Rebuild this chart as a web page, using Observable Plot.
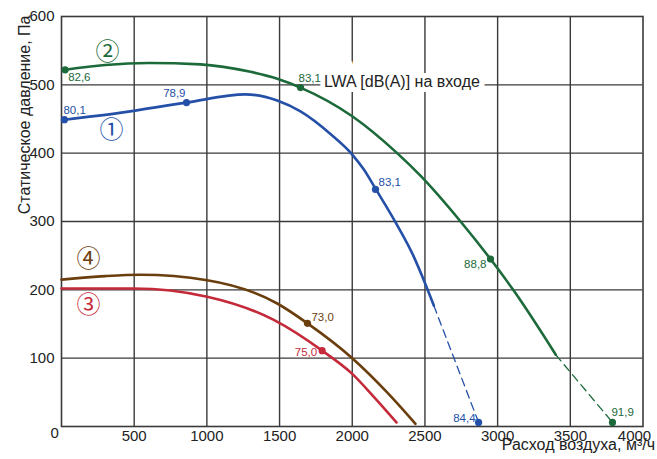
<!DOCTYPE html>
<html><head><meta charset="utf-8">
<script src="https://cdn.jsdelivr.net/npm/d3@7"></script>
<script src="https://cdn.jsdelivr.net/npm/@observablehq/plot@0.6"></script>
<style>body{margin:0;background:#fff} svg{display:block}</style>
</head><body><div id="chart"></div>
<script>
// ---- data ----
const xTicks = [500, 1000, 1500, 2000, 2500, 3000, 3500];
const xLastTick = [4000];
const yTicks = [100, 200, 300, 400, 500, 600];
const xGrid = [500, 1000, 1500, 2000, 2500, 3000, 3500];
const yGrid = [100, 200, 300, 400, 500];

// curve 1 (blue)
const c1X = [20, 400, 860, 1266, 1484, 1644, 1850, 2000, 2080, 2160, 2300, 2420, 2500, 2561];
const c1Y = [449, 459, 474, 486, 477, 461, 428, 398, 376, 348, 298, 250, 210, 177];
const c1DashX = [2561, 2869];
const c1DashY = [177, 6];
// curve 2 (green)
const c2X = [25, 300, 600, 956, 1300, 1484, 1644, 2000, 2309, 2469, 2745, 2951, 3107, 3400];
const c2Y = [522, 529, 532, 530, 519, 509, 496, 454, 400, 367, 300, 245, 200, 105];
const c2DashX = [3400, 3790];
const c2DashY = [105, 6];
// curve 3 (red)
const c3X = [0, 497, 1002, 1460, 1793, 2000, 2150, 2304];
const c3Y = [202, 202, 190, 156, 111, 77, 43, 6];
// curve 4 (brown)
const c4X = [0, 300, 543, 1002, 1484, 1692, 2000, 2240, 2435];
const c4Y = [215, 220, 222, 214, 180, 151, 100, 50, 4];

// labelled points (LWA values)
const ptCurve = [2, 2, 2, 2, 1, 1, 1, 1, 4, 3];
const ptX = [25, 1644, 2951, 3790, 20, 860, 2160, 2869, 1692, 1793];
const ptY = [522, 496, 245, 6, 449, 474, 347, 6, 151, 111];
const ptLabel = ["82,6", "83,1", "88,8", "91,9", "80,1", "78,9", "83,1", "84,4", "73,0", "75,0"];

// curve numbers
const numText = ["①", "②", "③", "④"];
const numX = [344, 316, 186, 186];
const numY = [433, 547, 178, 244];

const lwaText = "LWA [dB(A)] на входе";
const xTitle = "Расход воздуха, м³/ч";
const yTitle = "Статическое давление, Па";

// ---- styling ----
const colors = {1: "#2550a8", 2: "#1c6a3a", 3: "#c42a3a", 4: "#6b3e0d"};
const labelLayout = [
  {dx: 3, dy: 8, a: "start"},
  {dx: -2, dy: -9, a: "start"},
  {dx: -4, dy: 5, a: "end"},
  {dx: -1, dy: -10, a: "start"},
  {dx: -1, dy: -9, a: "start"},
  {dx: -1, dy: -9, a: "end"},
  {dx: 3, dy: -7, a: "start"},
  {dx: -3, dy: -4, a: "end"},
  {dx: 4, dy: -6, a: "start"},
  {dx: -5, dy: 2, a: "end"}
];

const rows = (xs, ys) => xs.map((x, i) => ({x, y: ys[i]}));
const grid = "#3a3a3a";
const fmt = d => String(d);

const marks = [
  Plot.ruleX(xGrid, {stroke: grid, strokeWidth: 1.4}),
  Plot.ruleY(yGrid, {stroke: grid, strokeWidth: 1.4}),
  Plot.frame({stroke: grid, strokeWidth: 1.6}),
  Plot.text([lwaText], {x: () => 1805, y: () => 505, textAnchor: "start", fontSize: 16,
    fill: "white", stroke: "white", strokeWidth: 10, strokeLinejoin: "miter"}),
  Plot.text([lwaText], {x: () => 1805, y: () => 505, textAnchor: "start", fontSize: 16, fill: "#222"}),
  Plot.axisY(yTicks, {tickSize: 0, tickPadding: 7, fontSize: 15, fill: "#222", label: null, tickFormat: fmt}),
  Plot.axisX(xTicks, {tickSize: 0, tickPadding: 4, fontSize: 15, fill: "#222", label: null, tickFormat: fmt}),
  Plot.axisX(xLastTick, {tickSize: 0, tickPadding: 4, fontSize: 15, fill: "#222", label: null, tickFormat: fmt, dx: -8.5}),
  Plot.text(["0"], {frameAnchor: "bottom-left", dx: -11, dy: 11, fontSize: 15, fill: "#222"}),
  Plot.text([xTitle], {frameAnchor: "bottom-right", textAnchor: "end", dx: 12, dy: 23.5, fontSize: 16, fill: "#222"}),
  Plot.text([yTitle], {frameAnchor: "top-left", textAnchor: "end", rotate: -90, dx: -42.6, dy: -1, fontSize: 16, fill: "#222"}),
];

const curves = [[1, c1X, c1Y], [2, c2X, c2Y], [3, c3X, c3Y], [4, c4X, c4Y]];
for (const [k, xs, ys] of curves) {
  marks.push(Plot.line(rows(xs, ys), {x: "x", y: "y", stroke: colors[k], strokeWidth: 2.6, curve: "monotone-x"}));
}
marks.push(Plot.line(rows(c1DashX, c1DashY), {x: "x", y: "y", stroke: colors[1], strokeWidth: 1.3, strokeDasharray: "8,5"}));
marks.push(Plot.line(rows(c2DashX, c2DashY), {x: "x", y: "y", stroke: colors[2], strokeWidth: 1.3, strokeDasharray: "8,5"}));

const pts = ptX.map((x, i) => ({x, y: ptY[i], c: colors[ptCurve[i]], t: ptLabel[i], ...labelLayout[i]}));
marks.push(Plot.dot(pts, {x: "x", y: "y", r: 3.6, fill: d => d.c, stroke: "none"}));
for (const p of pts) {
  marks.push(Plot.text([p], {x: "x", y: "y", text: "t", fill: p.c, fontSize: 11.5, dx: p.dx, dy: p.dy, textAnchor: p.a}));
}
const nums = numText.map((t, i) => ({t, x: numX[i], y: numY[i], c: colors[i + 1]}));
for (const n of nums) {
  marks.push(Plot.text([n], {x: "x", y: "y", text: "t", fill: n.c, fontSize: 24, fontFamily: "'Noto Sans CJK JP', 'DejaVu Sans'"}));
}

const chart = Plot.plot({
  width: 657, height: 459,
  marginLeft: 61, marginRight: 14.5, marginTop: 16, marginBottom: 33,
  x: {domain: [0, 4000]},
  y: {domain: [0, 600]},
  style: {fontFamily: "'Liberation Sans', Arial, sans-serif", background: "white", color: "#222"},
  marks
});
document.getElementById("chart").appendChild(chart);
</script>
</body></html>
